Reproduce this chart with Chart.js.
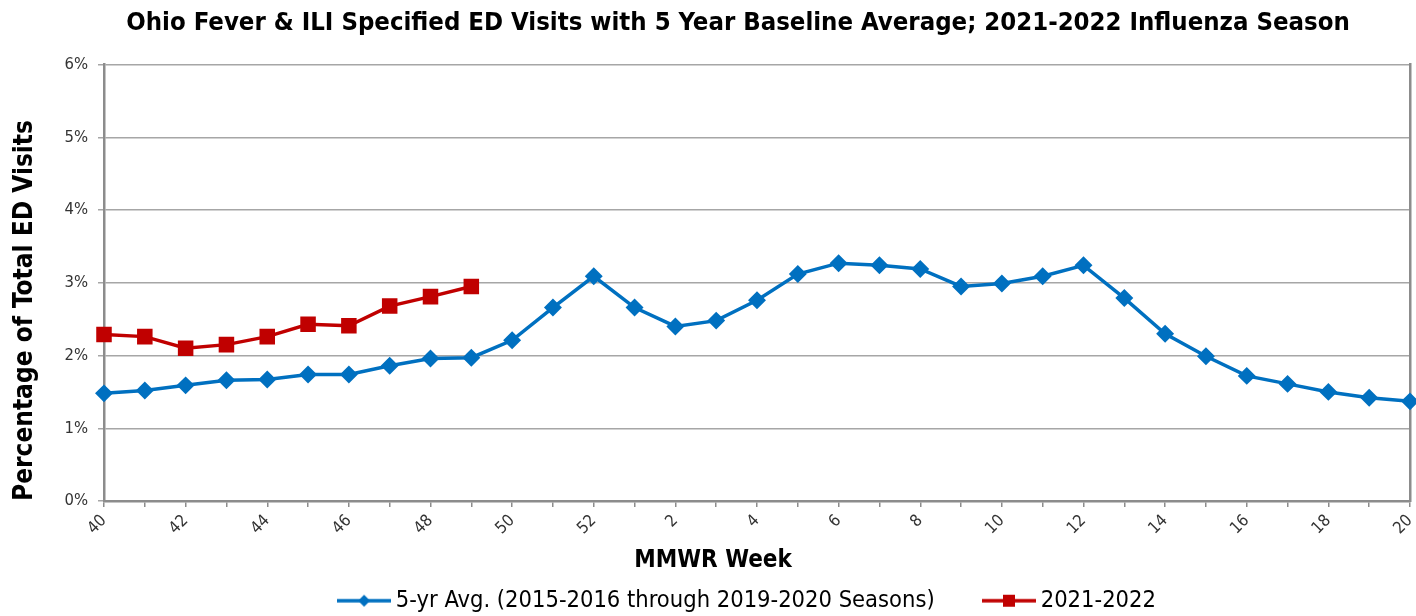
<!DOCTYPE html>
<html>
<head>
<meta charset="utf-8">
<script src="https://cdn.jsdelivr.net/npm/chart.js@4.4.1/dist/chart.umd.min.js"></script>
<style>
  html, body { margin: 0; padding: 0; background: #fff; }
  #wrap { width: 1416px; height: 616px; }
</style>
</head>
<body>
<div id="wrap"><canvas id="c" width="1416" height="616"></canvas></div>
<script>
const weeks = ['40','41','42','43','44','45','46','47','48','49','50','51','52',
  '1','2','3','4','5','6','7','8','9','10','11','12','13','14','15','16','17','18','19','20'];
const avg5yr = [1.48,1.52,1.59,1.66,1.67,1.74,1.74,1.86,1.96,1.97,2.21,2.66,3.09,
  2.66,2.40,2.48,2.76,3.12,3.27,3.24,3.19,2.95,2.99,3.09,3.24,2.79,2.30,1.99,1.72,1.61,1.50,1.42,1.37];
const season2122 = [2.29,2.26,2.10,2.15,2.26,2.43,2.41,2.68,2.81,2.95];
const yTicks = [0,1,2,3,4,5,6];
const seriesNames = ['5-yr Avg. (2015-2016 through 2019-2020 Seasons)', '2021-2022'];

const FONT = '"Liberation Sans Narrow", "DejaVu Sans Condensed", "Liberation Sans", sans-serif';
const BLUE = '#0070C0';
const RED = '#C00000';

function legendIcon(color, style) {
  const cv = document.createElement('canvas');
  cv.width = 54; cv.height = 14;
  const g = cv.getContext('2d');
  g.strokeStyle = color; g.lineWidth = 3.5;
  g.beginPath(); g.moveTo(0, 7); g.lineTo(54, 7); g.stroke();
  g.fillStyle = color;
  if (style === 'diamond') {
    g.beginPath(); g.moveTo(27, 1); g.lineTo(33, 7); g.lineTo(27, 13); g.lineTo(21, 7); g.closePath(); g.fill();
  } else {
    g.fillRect(21, 1, 12, 12);
  }
  return cv;
}

const shiftPlugin = {
  id: 'shiftBoxes',
  afterLayout(chart) {
    if (chart.titleBlock) { chart.titleBlock.left = 30; chart.titleBlock.right = 1446; }
    if (chart.legend) { chart.legend.left = 42; chart.legend.right = 1458; }
    const xs = chart.scales.x;
    if (xs && !xs._patchedTitle) {
      xs._patchedTitle = true;
      const orig = xs.drawTitle.bind(xs);
      xs.drawTitle = function () {
        const l = this.left, r = this.right;
        this.left -= 44; this.right -= 44;
        orig();
        this.left = l; this.right = r;
      };
    }
  }
};

const ctx = document.getElementById('c').getContext('2d');
new Chart(ctx, {
  type: 'line',
  data: {
    labels: weeks,
    datasets: [
      {
        label: seriesNames[0],
        data: avg5yr,
        borderColor: BLUE, backgroundColor: BLUE,
        borderWidth: 3.5, pointStyle: 'rectRot', pointRadius: 6.5, pointHoverRadius: 6.5,
        tension: 0, clip: false, legendIcon: legendIcon(BLUE, 'diamond')
      },
      {
        label: seriesNames[1],
        data: season2122,
        borderColor: RED, backgroundColor: RED,
        borderWidth: 3.5, pointStyle: 'rect', pointRadius: 8.5, pointHoverRadius: 8.5,
        tension: 0, clip: false, legendIcon: legendIcon(RED, 'square')
      }
    ]
  },
  options: {
    responsive: false,
    animation: false,
    layout: { autoPadding: false, padding: { left: 0, right: 0, top: 0, bottom: 0 } },
    plugins: {
      tooltip: { enabled: false },
      title: {
        display: true,
        text: 'Ohio Fever & ILI Specified ED Visits with 5 Year Baseline Average; 2021-2022 Influenza Season',
        color: '#000',
        font: { family: FONT, size: 25.5, weight: 'bold' },
        padding: { top: 8, bottom: 26 }
      },
      legend: {
        position: 'bottom',
        maxHeight: 41,
        labels: {
          color: '#000',
          font: { family: FONT, size: 23.5 },
          usePointStyle: true,
          pointStyleWidth: 40,
          padding: 14,
          generateLabels: (chart) => chart.data.datasets.map((ds, i) => ({
            text: i === 0 ? ds.label + '\u00A0\u00A0\u00A0\u00A0\u00A0\u00A0' : ds.label,
            pointStyle: ds.legendIcon,
            fillStyle: ds.borderColor,
            strokeStyle: ds.borderColor,
            fontColor: '#000',
            lineWidth: 0,
            hidden: false,
            datasetIndex: i
          }))
        }
      }
    },
    scales: {
      x: {
        type: 'category',
        offset: false,
        afterFit: (s) => { s.height = 74; s.paddingLeft = 0; s.paddingRight = 0; },
        grid: { display: true, drawOnChartArea: false, drawTicks: true, tickLength: 6, color: '#8c8c8c', lineWidth: 1.5 },
        border: { display: true, color: '#8c8c8c', width: 2.5 },
        ticks: {
          autoSkip: false, maxRotation: 45, minRotation: 45,
          color: '#333', font: { family: FONT, size: 16.5 }, padding: 4,
          callback: (v, i) => (i % 2 === 0 ? weeks[i] : '')
        },
        title: { display: true, text: 'MMWR Week', color: '#000', font: { family: FONT, size: 24, weight: 'bold' }, padding: { top: 0, bottom: 0 } }
      },
      y: {
        min: 0, max: 6,
        afterBuildTicks: (s) => { s.ticks = yTicks.map(v => ({ value: v })); },
        afterFit: (s) => { s.width = 104; },
        grid: { color: '#a6a6a6', lineWidth: 1.5, tickLength: 6 },
        border: { display: true, color: '#8c8c8c', width: 2.5 },
        ticks: { color: '#333', font: { family: FONT, size: 16.5 }, padding: 10, callback: (v) => v + '%' },
        title: { display: true, text: 'Percentage of Total ED Visits', align: 'start', color: '#000', font: { family: FONT, size: 26, weight: 'bold' }, padding: { top: 10, bottom: 0 } }
      },
      yRight: {
        position: 'right',
        min: 0, max: 6,
        afterFit: (s) => { s.width = 6; },
        grid: { drawOnChartArea: false, drawTicks: false },
        border: { display: true, color: '#8c8c8c', width: 2.5 },
        ticks: { display: false }
      }
    }
  },
  plugins: [shiftPlugin]
});
</script>
</body>
</html>
